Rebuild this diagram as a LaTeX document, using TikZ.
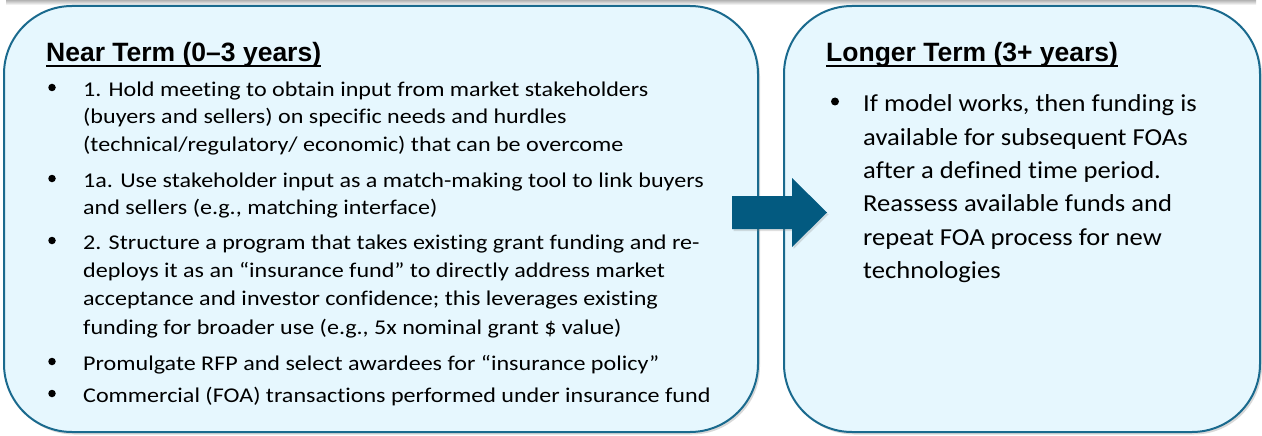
\documentclass[tikz,border=0pt]{standalone}
\usepackage{fontspec}
\setmainfont{Carlito}
\newfontfamily\arialfont{Liberation Sans}
\newfontfamily\leftfont[FakeStretch=1.147, Ligatures=NoCommon]{Carlito}
\newfontfamily\rightfont[FakeStretch=1.09, Ligatures=NoCommon]{Carlito}
\usetikzlibrary{shadows}
\definecolor{boxfill}{HTML}{E6F7FE}
\definecolor{boxline}{HTML}{1A6A8E}
\definecolor{arrowblue}{HTML}{035A80}
\begin{document}
\begin{tikzpicture}[x=1pt,y=-1pt,
  termbox/.style={draw=boxline, line width=2pt, fill=boxfill, rounded corners=68pt,
    drop shadow={opacity=0.3, shadow xshift=2pt, shadow yshift=-2.5pt}},
  titletext/.style={anchor=base west, inner sep=0pt, font=\arialfont\bfseries\fontsize{26.5}{30}\selectfont},
  lefttext/.style={anchor=base west, inner sep=0pt, font=\leftfont\fontsize{21}{26}\selectfont},
  righttext/.style={anchor=base west, inner sep=0pt, font=\rightfont\fontsize{24.4}{30}\selectfont},
  bulletdot/.style={circle, fill=black, inner sep=0pt, minimum size=7.5pt}
]
\useasboundingbox (0,0) rectangle (1262,436);
\fill[white] (0,0) rectangle (1262,436);
% shadow of a box above
\shade[top color=black!30, bottom color=white] (6,0) rectangle (1256,5);

% boxes
\path[termbox] (4,6) rectangle (758,432);
\path[termbox] (784,6) rectangle (1260,432);

% arrow
\fill[arrowblue, drop shadow={opacity=0.25, shadow xshift=1.5pt, shadow yshift=-2pt}]
  (732,196) -- (792,196) -- (792,178) -- (827,212.5) -- (792,247) -- (792,229) -- (732,229) -- cycle;

% titles
\node[titletext] (t1) at (46,62) {Near Term (0–3 years)};
\draw[line width=2.5pt] ([yshift=-4pt]t1.base west) -- ([yshift=-4pt]t1.base east);
\node[titletext] (t2) at (826,62) {Longer Term (3+ years)};
\draw[line width=2.5pt] ([yshift=-4pt]t2.base west) -- ([yshift=-4pt]t2.base east);

% left bullets
\foreach \n/\y in {1/96,2/187,3/249,4/370,5/402}
  \node[bulletdot] (lb\n) at (52,\y-8.5) {};
\foreach \n/\y/\t in {
  1/96/{1. Hold meeting to obtain input from market stakeholders},
  2/123.5/{(buyers and sellers) on specific needs and hurdles},
  3/151/{(technical/regulatory/ economic) that can be overcome},
  4/187/{1a. Use stakeholder input as a match-making tool to link buyers},
  5/214/{and sellers (e.g., matching interface)},
  6/249/{2. Structure a program that takes existing grant funding and re-},
  7/277/{deploys it as an “insurance fund” to directly address market},
  8/305.5/{acceptance and investor confidence; this leverages existing},
  9/334/{funding for broader use (e.g., 5x nominal grant \$ value)},
  10/370/{Promulgate RFP and select awardees for “insurance policy”},
  11/402/{Commercial (FOA) transactions performed under insurance fund}}
  \node[lefttext] (ll\n) at (83,\y) {\t};

% right bullet
\node[bulletdot, minimum size=8pt] (rb1) at (835,101.5) {};
\foreach \n/\y/\t in {
  1/111.7/{If model works, then funding is},
  2/145/{available for subsequent FOAs},
  3/178.3/{after a defined time period.},
  4/211.6/{Reassess available funds and},
  5/245/{repeat FOA process for new},
  6/278.3/{technologies}}
  \node[righttext] (rl\n) at (863,\y) {\t};
\end{tikzpicture}
\end{document}
